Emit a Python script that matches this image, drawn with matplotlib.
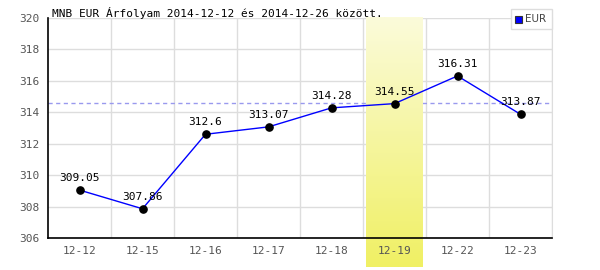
import numpy as np
import matplotlib
matplotlib.use("Agg")
import matplotlib.pyplot as plt
from matplotlib.patches import Rectangle

# Data
dates = ["12-12", "12-15", "12-16", "12-17", "12-18", "12-19", "12-22", "12-23"]
rates = [309.05, 307.86, 312.6, 313.07, 314.28, 314.55, 316.31, 313.87]
ref_rate = 314.57
highlight = 5
title = "MNB EUR Árfolyam 2014-12-12 és 2014-12-26 között."

fig = plt.figure(figsize=(6, 2.7), dpi=100)
ax = fig.add_axes([0.08, 0.1185, 0.84, 0.815])

x = np.arange(len(dates))
ax.set_xlim(-0.5, len(dates) - 0.5)
ax.set_ylim(306, 320)

# grid
for yv in range(306, 321, 2):
    ax.axhline(yv, color="#dddddd", lw=1, zorder=1)
for xv in np.arange(0.5, len(dates), 1):
    ax.axvline(xv, color="#dddddd", lw=1, zorder=1)

# average line
ax.axhline(ref_rate, color="#9999ee", lw=1, ls=(0, (3, 2.5)), zorder=2)

# highlighted day, gradient band that runs below the axis
grad = np.linspace(0, 1, 100).reshape(-1, 1)
top = np.array([251, 251, 218]) / 255
bot = np.array([240, 240, 100]) / 255
img = top + (bot - top) * grad[:, :, None]
ax.imshow(img, extent=(highlight - 0.45, highlight + 0.45, 304.15, 320),
          aspect="auto", origin="upper", zorder=2.5, clip_on=False)

ax.plot(x, rates, color="#0000ff", lw=1, zorder=3)
ax.plot(x, rates, "o", color="black", ms=5.2, zorder=4)
for xi, v in zip(x, rates):
    ax.annotate(f"{v:g}", (xi, v), xytext=(0, 5), textcoords="offset points",
                ha="center", va="bottom", fontsize=8, family="DejaVu Sans Mono",
                color="black", zorder=5)

ax.set_xticks(x)
ax.set_xticklabels(dates)
ax.set_yticks(range(306, 321, 2))
ax.tick_params(length=0, labelsize=8, colors="#555555", pad=6)
for lbl in ax.get_xticklabels() + ax.get_yticklabels():
    lbl.set_family("DejaVu Sans Mono")
ax.xaxis.set_zorder(7)
ax.yaxis.set_zorder(7)

ax.spines["top"].set_visible(False)
ax.spines["right"].set_color("#dddddd")
ax.spines["left"].set_color("black")
ax.spines["bottom"].set_color("black")
ax.spines["left"].set_linewidth(1.2)
ax.spines["bottom"].set_linewidth(1.2)
ax.spines["left"].set_zorder(6)
ax.spines["bottom"].set_zorder(6)

fig.text(52 / 600, 1 - 13 / 270, title, fontsize=8, family="DejaVu Sans Mono",
         va="center", ha="left", color="black")

# legend box
fig.patches.append(Rectangle((511 / 600, 1 - 29 / 270), 41 / 600, 20 / 270,
                             transform=fig.transFigure, facecolor="white",
                             edgecolor="#dddddd", lw=1, zorder=10))
fig.patches.append(Rectangle((515 / 600, 1 - 23 / 270), 7 / 600, 7 / 270,
                             transform=fig.transFigure, facecolor="#0000ff",
                             edgecolor="#333333", lw=0.8, zorder=11))
fig.text(525 / 600, 1 - 19.5 / 270, "EUR", fontsize=7.5, color="#444444",
         va="center", ha="left", zorder=12)

fig.savefig("out.png", dpi=100)
